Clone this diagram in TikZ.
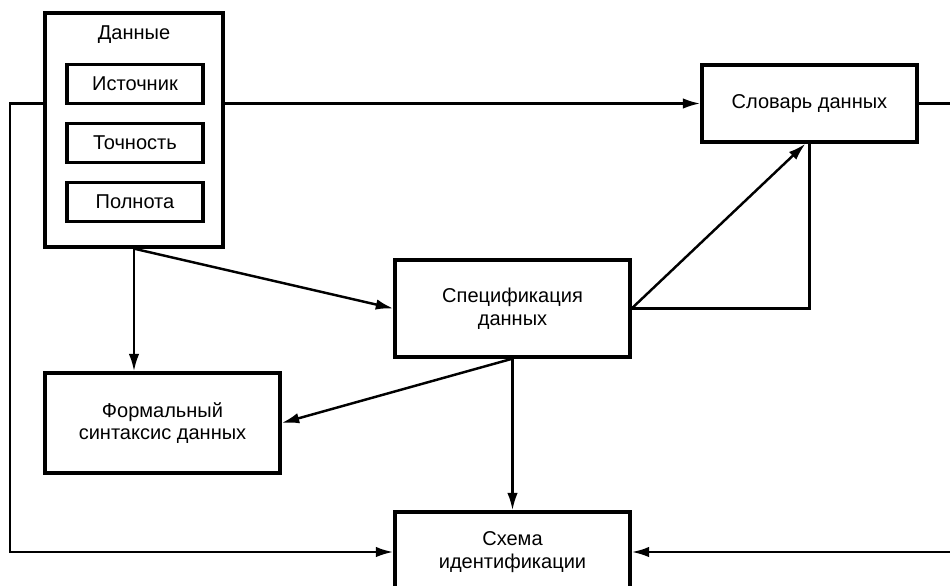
\documentclass[tikz,border=0pt]{standalone}
\usepackage{fontspec}
\setmainfont{Liberation Sans}
\usetikzlibrary{arrows.meta}

\begin{document}
\begin{tikzpicture}[x=0.02cm, y=-0.02cm,
                    box/.style={draw, line width=1.9pt, align=center, inner sep=0pt,
                                font=\fontsize{11.4}{12.8}\selectfont},
                    line/.style={line width=1.4pt},
                    arr/.style={line width=1.4pt, -{Latex[length=10pt,width=6pt]}}]
                    \useasboundingbox (0,0) rectangle (950,585);
                    \clip (0,0) rectangle (950,585);
                    % blocks
                    \node[box, minimum width=3.56cm, minimum height=4.68cm] (data) at (134,130) {};
                    \node[font=\fontsize{11.4}{12.8}\selectfont] (datatitle) at (134,35) {Данные};
                    \node[box, minimum width=2.72cm, minimum height=0.78cm] (source) at (135,84) {Источник};
                    \node[box, minimum width=2.72cm, minimum height=0.78cm] (accuracy) at (135,143) {Точность};
                    \node[box, minimum width=2.72cm, minimum height=0.78cm] (fullness) at (135,202) {Полнота};
                    \node[box, minimum width=4.3cm, minimum height=1.54cm] (dict) at (809.5,103.5) {Словарь данных};
                    \node[box, minimum width=4.7cm, minimum height=1.94cm] (spec) at (512.5,308.5) {Спецификация\\данных};
                    \node[box, minimum width=4.7cm, minimum height=2cm] (syntax) at (162.5,423) {Формальный\\синтаксис данных};
                    \node[box, minimum width=4.7cm, minimum height=1.6cm] (scheme) at (512.5,552) {Схема\\идентификации};
                    \coordinate (leftrail) at (10,0);
                    \coordinate (rightrail) at (950,0);
                    % links
                    \draw[arr] (data.east |- dict.west) -- (dict.west);
                    \draw[arr] (data.west |- dict.west) -- (leftrail |- dict.west) |- (scheme.west);
                    \draw[line] (dict.east) -- (rightrail |- dict.east);
                    \draw[arr] (rightrail |- scheme.east) -- (scheme.east);
                    \draw[arr] (data.south) -- (data.south |- syntax.north);
                    \draw[arr] (data.south) -- (spec.west);
                    \draw[line] (spec.east) -| (dict.south);
                    \draw[arr] (spec.east) -- ([xshift=-0.08cm]dict.south);
                    \draw[arr] (spec.south) -- (syntax.east);
                    \draw[arr] (spec.south) -- (scheme.north);
                \end{tikzpicture}
\end{document}
